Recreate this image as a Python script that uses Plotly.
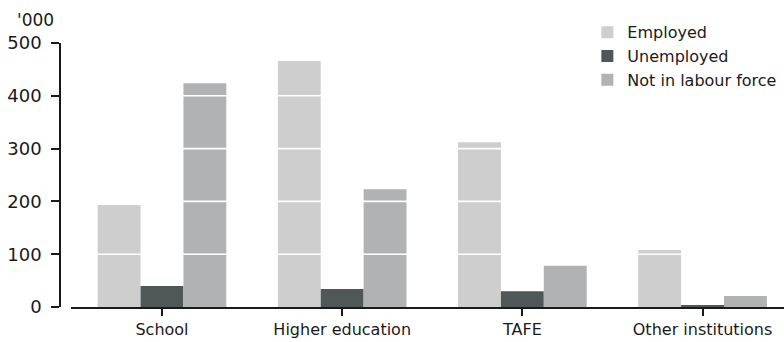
import plotly.graph_objects as go

categories = ["School", "Higher education", "TAFE", "Other institutions"]
employed = [193, 466, 312, 108]
unemployed = [40, 34, 30, 4]
not_in_lf = [424, 223, 78, 21]
y_ticks = [0, 100, 200, 300, 400, 500]
grid_vals = [100, 200, 300, 400]

font_family = "DejaVu Sans, Verdana, sans-serif"
text_color = "#1a1a1a"

fig = go.Figure()
fig.add_trace(go.Bar(name="Employed", x=categories, y=employed, marker=dict(color="#cecece", line=dict(width=0))))
fig.add_trace(go.Bar(name="Unemployed", x=categories, y=unemployed, marker=dict(color="#505759", line=dict(width=0))))
fig.add_trace(go.Bar(name="Not in labour force", x=categories, y=not_in_lf, marker=dict(color="#b1b2b4", line=dict(width=0))))

for g in grid_vals:
    fig.add_shape(type="line", xref="x domain", yref="y", x0=0, x1=1, y0=g, y1=g,
                  line=dict(color="white", width=1.6), layer="above")

fig.add_annotation(text="'000", xref="paper", yref="paper", x=-0.0055, y=0.967,
                   xanchor="right", yanchor="middle", showarrow=False,
                   font=dict(size=17, color=text_color, family=font_family))

fig.update_layout(
    width=784, height=342,
    margin=dict(l=60, r=0, t=10, b=35),
    paper_bgcolor="white", plot_bgcolor="white",
    barmode="group", bargap=0.286, bargroupgap=0,
    font=dict(family=font_family, color=text_color, size=16),
    legend=dict(x=0.7284, y=0.982, xanchor="left", yanchor="top",
                font=dict(size=16, color=text_color), bgcolor="rgba(0,0,0,0)",
                itemwidth=30, traceorder="normal"),
    xaxis=dict(domain=[11/724, 1], range=[-0.505, 3.452], type="category",
               showline=True, linecolor="#1a1a1a", linewidth=1.5, automargin=False,
               ticks="outside", ticklen=7, tickcolor="#1a1a1a", tickwidth=1.5,
               showgrid=False, tickfont=dict(size=16, color=text_color)),
    yaxis=dict(domain=[0, 264/297], range=[0, 500], tickvals=y_ticks, anchor="free", position=0,
               showline=True, linecolor="#1a1a1a", linewidth=1.5, automargin=False,
               ticks="outside", ticklen=8, tickcolor="#1a1a1a", tickwidth=1.5,
               ticklabelstandoff=6,
               showgrid=False, zeroline=False, tickfont=dict(size=18, color=text_color)),
)

fig.write_html("out.html", config={"displayModeBar": False},
               post_script="document.body.style.margin='0';")
